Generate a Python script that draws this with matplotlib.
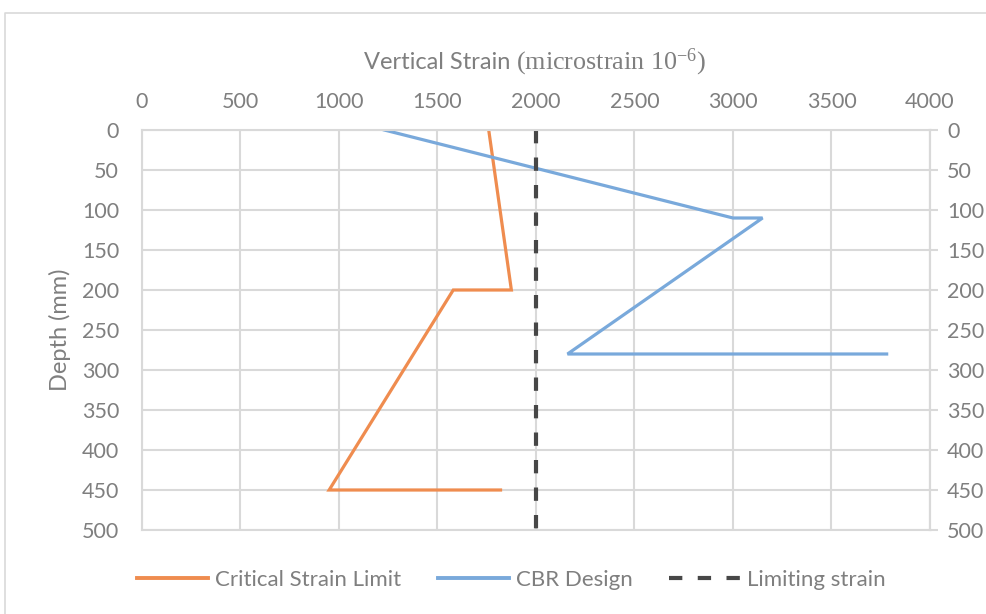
import matplotlib
matplotlib.use("Agg")
import matplotlib.pyplot as plt
from matplotlib.lines import Line2D

# strain profiles (microstrain) against depth (mm)
depth_critical = [0, 200, 200, 450, 450]
strain_critical = [1760, 1875, 1580, 950, 1820]

depth_cbr = [0, 110, 110, 280, 280]
strain_cbr = [1230, 3000, 3150, 2160, 3780]

depth_limit = [0, 500]
strain_limit = [2000, 2000]

x_ticks = [0, 500, 1000, 1500, 2000, 2500, 3000, 3500, 4000]
y_ticks = [0, 50, 100, 150, 200, 250, 300, 350, 400, 450, 500]

series_names = ["Critical Strain Limit", "CBR Design", "Limiting strain"]

TEXT = "#7f7f7f"
GRID = "#d9d9d9"
ORANGE = "#ef8c4f"
BLUE = "#79a9db"
DARK = "#474747"

plt.rcParams["font.family"] = ["Lato", "DejaVu Sans"]
plt.rcParams["mathtext.fontset"] = "custom"
plt.rcParams["mathtext.rm"] = "Liberation Serif"
plt.rcParams["mathtext.it"] = "Liberation Serif:italic"

fig = plt.figure(figsize=(9.87, 6.14), dpi=100)
ax = fig.add_axes([142 / 987, 84 / 614, 788 / 987, 400 / 614])

ax.plot(strain_critical, depth_critical, color=ORANGE, lw=2.3, solid_joinstyle="miter")
ax.plot(strain_cbr, depth_cbr, color=BLUE, lw=2.3, solid_joinstyle="miter")
ax.plot(strain_limit, depth_limit, color=DARK, lw=3, linestyle=(0, (3.2, 3.4)))

ax.set_xlim(0, 4000)
ax.set_ylim(500, 0)
ax.set_xticks(x_ticks)
ax.set_yticks(y_ticks)
ax.grid(True, color=GRID, lw=1.5)
ax.set_axisbelow(True)
for s in ax.spines.values():
    s.set_color(GRID)
    s.set_linewidth(1.5)

ax.xaxis.tick_top()
ax.tick_params(axis="x", top=False, bottom=False, labeltop=True, labelbottom=False,
               length=0, pad=13, labelsize=15.5, labelcolor=TEXT)
ax.tick_params(axis="y", left=False, right=False, labelleft=True, labelright=False,
               length=0, pad=16.5, labelsize=15.5, labelcolor=TEXT)

# duplicate depth scale on the right with short outward ticks
ax2 = ax.secondary_yaxis("right")
ax2.set_yticks(y_ticks)
ax2.spines["right"].set_color(GRID)
ax2.spines["right"].set_linewidth(1.5)
ax2.tick_params(axis="y", direction="out", length=5.8, width=1.5, color=GRID,
                pad=6.5, labelsize=15.5, labelcolor=TEXT)

ax.set_ylabel("Depth (mm)", fontsize=17, color=TEXT)
ax.yaxis.set_label_coords(-(142 - 71) / 788, 0.5)

# title in two fonts
fig.text(516 / 987, 1 - 69 / 614, "Vertical Strain ", ha="right", va="baseline",
         fontsize=17, color=TEXT)
fig.text(516 / 987, 1 - 69 / 614, r"(microstrain 10$^{-6}$)", ha="left", va="baseline",
         fontsize=18.8, color=TEXT, family="Liberation Serif")

handles = [
    Line2D([], [], color=ORANGE, lw=2.8),
    Line2D([], [], color=BLUE, lw=2.8),
    Line2D([], [], color=DARK, lw=3, linestyle=(0, (3.2, 3.7))),
]
leg = fig.legend(handles, series_names, loc="center", bbox_to_anchor=(0.518, 1 - 580 / 614),
                 ncol=3, frameon=False, fontsize=16, handlelength=3.2, handletextpad=0.3,
                 columnspacing=1.65)
for t in leg.get_texts():
    t.set_color(TEXT)

# outer chart border
fig.add_artist(Line2D([5 / 987, 5 / 987, 1.0], [0.0, 1 - 13 / 614, 1 - 13 / 614],
                      color=GRID, lw=1.2, transform=fig.transFigure))

fig.savefig("out.png", dpi=100)
